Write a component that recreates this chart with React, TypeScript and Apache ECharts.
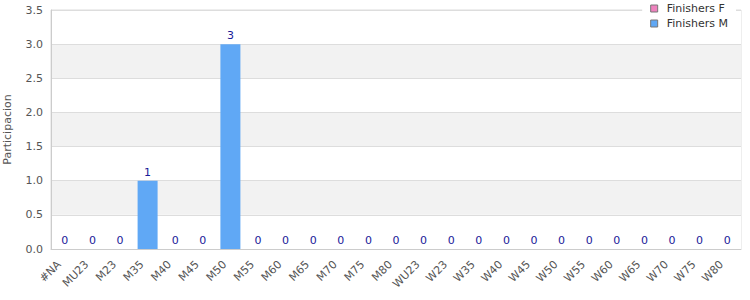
import React, { useEffect, useRef } from "react";
import * as echarts from "echarts";

const categories = ["#NA", "MU23", "M23", "M35", "M40", "M45", "M50", "M55", "M60", "M65", "M70", "M75", "M80", "WU23", "W23", "W35", "W40", "W45", "W50", "W55", "W60", "W65", "W70", "W75", "W80"];
const finishersF = [0, 0, 0, 0, 0, 0, 0, 0, 0, 0, 0, 0, 0, 0, 0, 0, 0, 0, 0, 0, 0, 0, 0, 0, 0];
const finishersM = [0, 0, 0, 1, 0, 0, 3, 0, 0, 0, 0, 0, 0, 0, 0, 0, 0, 0, 0, 0, 0, 0, 0, 0, 0];
const seriesNames = ["Finishers F", "Finishers M"];
const yAxisName = "Participacion";

export default function App() {
  const ref = useRef<HTMLDivElement>(null);
  useEffect(() => {
    if (!ref.current) return;
    const chart = echarts.init(ref.current, null, { renderer: "svg" });
    const font = "DejaVu Sans";
    chart.setOption({
      animation: false,
      textStyle: { fontFamily: font },
      grid: {
        left: 51,
        right: 9,
        top: 10,
        bottom: 51,
        containLabel: false,
        outerBoundsMode: "none",
        show: true,
        borderColor: "#dddddd",
        borderWidth: 1,
        backgroundColor: "transparent",
      },
      legend: {
        orient: "vertical",
        right: 14,
        top: 1,
        itemWidth: 7,
        itemHeight: 7,
        itemGap: 4,
        padding: [2, 8, 2, 8],
        backgroundColor: "#ffffff",
        textStyle: { fontFamily: font, fontSize: 11, color: "#333333", padding: [0, 0, 0, 4] },
        data: seriesNames.map((n) => ({ name: n, icon: "rect" })),
        itemStyle: { borderColor: "#777777", borderWidth: 1 },
      },
      xAxis: {
        type: "category",
        data: categories,
        axisLine: { lineStyle: { color: "#cccccc" } },
        axisTick: { show: false },
        axisLabel: {
          rotate: 45,
          interval: 0,
          fontFamily: font,
          fontSize: 11,
          color: "#555555",
          margin: 8,
          padding: [0, 8, 0, 0],
        },
      },
      yAxis: {
        type: "value",
        min: 0,
        max: 3.5,
        interval: 0.5,
        name: yAxisName,
        nameLocation: "middle",
        nameGap: 38,
        nameTextStyle: { fontFamily: font, fontSize: 11, color: "#555555" },
        axisLine: { show: true, lineStyle: { color: "#cccccc" } },
        axisTick: { show: false },
        axisLabel: {
          fontFamily: font,
          fontSize: 11,
          color: "#555555",
          margin: 8,
          formatter: (v: number) => v.toFixed(1),
        },
        splitLine: { lineStyle: { color: "#dddddd" } },
        splitArea: { show: true, areaStyle: { color: ["#ffffff", "#f2f2f2"] } },
      },
      series: [
        {
          name: seriesNames[0],
          type: "bar",
          stack: "total",
          barWidth: 20,
          data: finishersF,
          itemStyle: { color: "#ee82be" },
        },
        {
          name: seriesNames[1],
          type: "bar",
          stack: "total",
          barWidth: 20,
          data: finishersM,
          itemStyle: { color: "#60a8f5" },
          label: {
            show: true,
            position: "top",
            distance: 3,
            fontFamily: font,
            fontSize: 11,
            color: "#1a1a99",
          },
        },
      ],
    });
    return () => chart.dispose();
  }, []);
  return <div ref={ref} style={{ position: "absolute", left: 0, top: 0, width: 750, height: 300 }} />;
}
